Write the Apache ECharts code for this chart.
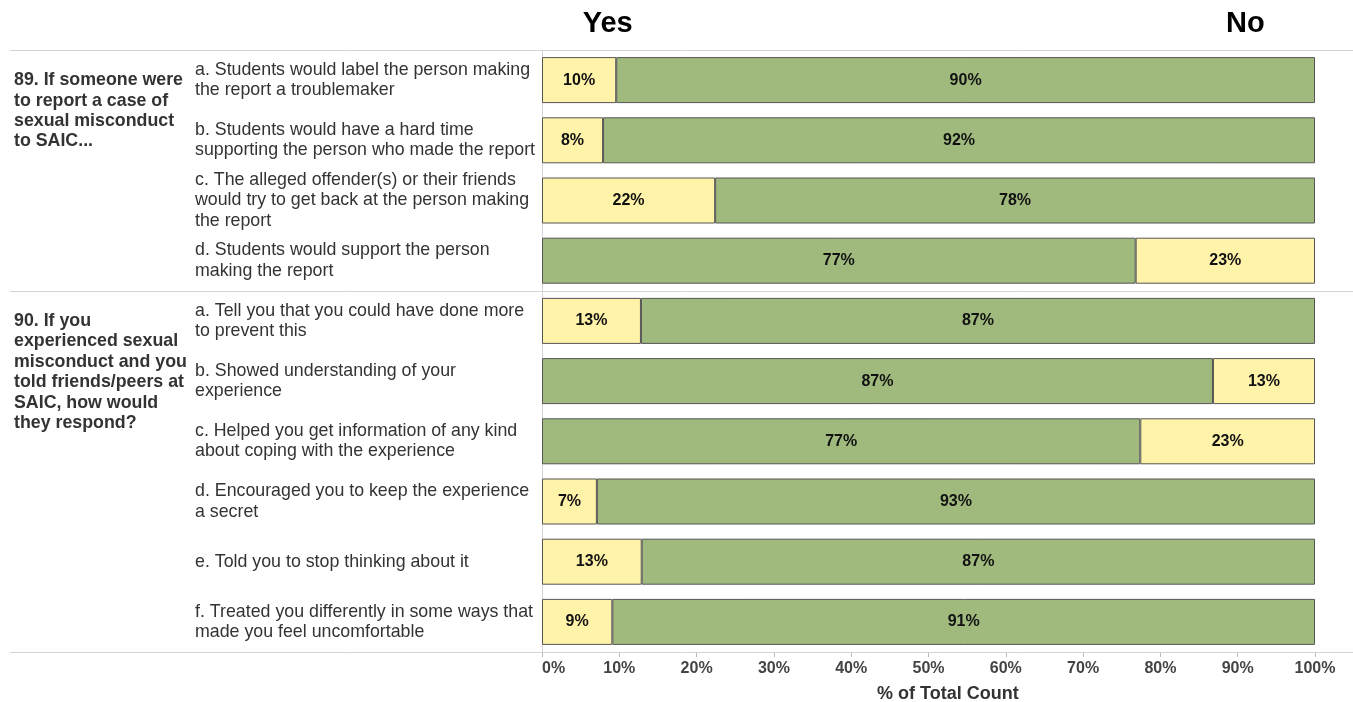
<!DOCTYPE html>
<html>
<head>
<meta charset="utf-8">
<script src="https://cdn.jsdelivr.net/npm/echarts@6/dist/echarts.min.js"></script>
<style>
html,body{margin:0;padding:0;background:#fff;}
#chart{width:1353px;height:702px;}
</style>
</head>
<body>
<div id="chart"></div>
<script>
const categories = [
  "a. Students would label the person making\nthe report a troublemaker",
  "b. Students would have a hard time\nsupporting the person who made the report",
  "c. The alleged offender(s) or their friends\nwould try to get back at the person making\nthe report",
  "d. Students would support the person\nmaking the report",
  "a. Tell you that you could have done more\nto prevent this",
  "b. Showed understanding of your\nexperience",
  "c. Helped you get information of any kind\nabout coping with the experience",
  "d. Encouraged you to keep the experience\na secret",
  "e. Told you to stop thinking about it",
  "f. Treated you differently in some ways that\nmade you feel uncomfortable"
];
const yesValues = [9.6, 7.9, 22.4, 76.8, 12.8, 86.8, 77.4, 7.1, 12.9, 9.1];
const noValues  = [90.4, 92.1, 77.6, 23.2, 87.2, 13.2, 22.6, 92.9, 87.1, 90.9];
const yesIsPositive = [false, false, false, true, false, true, true, false, false, false];
const groupTitles = [
  "89. If someone were\nto report a case of\nsexual misconduct\nto SAIC...",
  "90. If you\nexperienced sexual\nmisconduct and you\ntold friends/peers at\nSAIC, how would\nthey respond?"
];
const groupStart = [0, 4];
const tickLabels = ["0%","10%","20%","30%","40%","50%","60%","70%","80%","90%","100%"];
const headerLabels = ["Yes", "No"];

const GREEN = '#a0ba7e', YELLOW = '#fff2a9';
const FONT = '"Liberation Sans", Arial, sans-serif';

const chart = echarts.init(document.getElementById('chart'));

function mk(values, isYes) {
  return values.map((v, i) => {
    const pos = isYes ? yesIsPositive[i] : !yesIsPositive[i];
    return { value: v, itemStyle: { color: pos ? GREEN : YELLOW } };
  });
}

const labelCfg = {
  show: true, position: 'inside', color: '#111',
  fontFamily: FONT, fontWeight: 'bold', fontSize: 16,
  formatter: p => Math.round(p.value) + '%'
};

chart.setOption({
  animation: false,
  grid: { left: 542, right: 38, top: 50, bottom: 50, containLabel: false },
  xAxis: {
    type: 'value', min: 0, max: 100, interval: 10,
    axisLine: { show: false },
    axisTick: { show: true, length: 5, lineStyle: { color: '#bbb' } },
    splitLine: { show: false },
    axisLabel: {
      margin: 9, color: '#444', fontFamily: FONT, fontWeight: 'bold', fontSize: 16,
      alignMinLabel: 'left',
      formatter: (v) => tickLabels[Math.round(v / 10)]
    }
  },
  yAxis: {
    type: 'category', data: categories, inverse: true,
    axisLine: { show: true, lineStyle: { color: '#d4d4d4' } },
    axisTick: { show: false },
    splitLine: { show: false },
    axisLabel: {
      align: 'left', margin: 347, color: '#333', fontFamily: FONT,
      fontSize: 17.8, lineHeight: 20.5
    }
  },
  series: [
    { name: headerLabels[0], type: 'bar', stack: 'total', barWidth: 46, data: mk(yesValues, true),
      itemStyle: { borderColor: '#555', borderWidth: 1 }, label: labelCfg },
    { name: headerLabels[1], type: 'bar', stack: 'total', barWidth: 46, data: mk(noValues, false),
      itemStyle: { borderColor: '#555', borderWidth: 1 }, label: labelCfg }
  ]
});

// Separators and group titles placed from the axis scale
const c0 = chart.convertToPixel({ yAxisIndex: 0 }, 0);
const c1 = chart.convertToPixel({ yAxisIndex: 0 }, 1);
const band = c1 - c0;
const sepLines = [0, 4, categories.length].map(idx => c0 - band / 2 + idx * band);
const graphics = [];
sepLines.forEach(y => {
  graphics.push({ type: 'line', shape: { x1: 10, y1: Math.round(y) + 0.5, x2: 1353, y2: Math.round(y) + 0.5 },
    style: { stroke: '#d4d4d4', lineWidth: 1 }, silent: true, z: 10 });
});
groupTitles.forEach((t, g) => {
  const cy = chart.convertToPixel({ yAxisIndex: 0 }, groupStart[g]);
  graphics.push({ type: 'text', left: 14, top: cy - 10,
    style: { text: t, fontFamily: FONT, fontWeight: 'bold', fontSize: 17.8, lineHeight: 20.4,
      fill: '#333', textVerticalAlign: 'top' } });
});
const xYes = chart.convertToPixel({ xAxisIndex: 0 }, 8.5);
const xNo = chart.convertToPixel({ xAxisIndex: 0 }, 91);
graphics.push({ type: 'text', x: xYes, y: 24,
  style: { text: headerLabels[0], fontFamily: FONT, fontWeight: 'bold', fontSize: 29, fill: '#000',
    textAlign: 'center', textVerticalAlign: 'middle' } });
graphics.push({ type: 'text', x: xNo, y: 24,
  style: { text: headerLabels[1], fontFamily: FONT, fontWeight: 'bold', fontSize: 29, fill: '#000',
    textAlign: 'center', textVerticalAlign: 'middle' } });
graphics.push({ type: 'text', x: chart.convertToPixel({ xAxisIndex: 0 }, 52.5), y: 694,
  style: { text: '% of Total Count', fontFamily: FONT, fontWeight: 'bold', fontSize: 18, fill: '#333',
    textAlign: 'center', textVerticalAlign: 'middle' } });
chart.setOption({ graphic: graphics });
</script>
</body>
</html>
